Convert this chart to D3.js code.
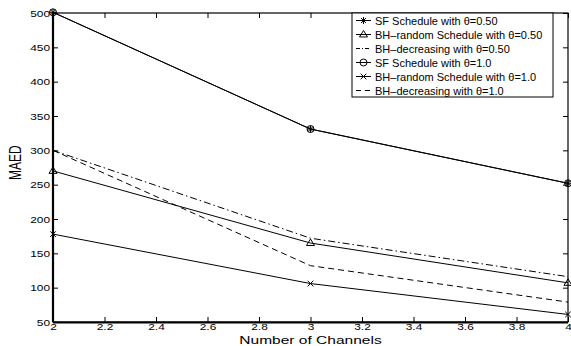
<!DOCTYPE html>
<html><head><meta charset="utf-8">
<script src="https://cdn.jsdelivr.net/npm/d3@7"></script>
<style>body{margin:0;background:#fff}svg{display:block}text{font-family:"Liberation Sans",Arial,Helvetica,sans-serif}</style>
</head><body>
<svg id="c" width="571" height="346"></svg>
<script>
const channels = [2, 3, 4];
const sf050 = [501, 331, 252];
const bhRandom050 = [270, 165, 107];
const bhDec050 = [300, 172, 116];
const sf10 = [501, 331, 252];
const bhRandom10 = [178, 106, 61];
const bhDec10 = [300, 132, 79];
const xTicks = [2, 2.2, 2.4, 2.6, 2.8, 3, 3.2, 3.4, 3.6, 3.8, 4];
const yTicks = [50, 100, 150, 200, 250, 300, 350, 400, 450, 500];
const seriesNames = ["SF Schedule with \u03b8=0.50", "BH\u2013random Schedule with \u03b8=0.50", "BH\u2013decreasing with \u03b8=0.50",
  "SF Schedule with \u03b8=1.0", "BH\u2013random Schedule with \u03b8=1.0", "BH\u2013decreasing with \u03b8=1.0"];
const seriesData = [sf050, bhRandom050, bhDec050, sf10, bhRandom10, bhDec10];
const seriesMarker = ["star", "triangle", null, "circle", "cross", null];
const seriesDash = [null, null, "7,3,1.5,3", null, null, "6,4"];

const W = 571, H = 346;
const m = {l: 53, r: 3, t: 13, b: 24};
const SX = 1.25;
const svg = d3.select("#c");
const x = d3.scaleLinear().domain([2, 4]).range([m.l, W - m.r]);
const y = d3.scaleLinear().domain([50, 500]).range([H - m.b, m.t]);
const pw = W - m.r - m.l, ph = H - m.b - m.t;

// axes
const fmt = d => String(+d.toFixed(1));
const gx = svg.append("g").attr("transform", `translate(0,${H - m.b})`)
  .call(d3.axisBottom(x).tickValues(xTicks).tickSize(-5).tickPadding(1.5).tickFormat(fmt));
const gxt = svg.append("g").attr("transform", `translate(0,${m.t})`)
  .call(d3.axisTop(x).tickValues(xTicks).tickSize(-5).tickFormat(""));
const gy = svg.append("g").attr("transform", `translate(${m.l},0)`)
  .call(d3.axisLeft(y).tickValues(yTicks).tickSize(-5).tickPadding(3));
const gyr = svg.append("g").attr("transform", `translate(${W - m.r},0)`)
  .call(d3.axisRight(y).tickValues(yTicks).tickSize(-5).tickFormat(""));
[gx, gxt, gy, gyr].forEach(g => {
  g.select(".domain").remove();
  g.selectAll("line").attr("stroke", "#000").attr("stroke-width", 1);
  g.selectAll("text").attr("font-size", 9.5).attr("fill", "#000");
});
gx.selectAll("text").attr("transform", `scale(${SX},1)`);
gy.selectAll("text").each(function () {
  const t = d3.select(this);
  const tx = +t.attr("x");
  t.attr("x", 0).attr("transform", `translate(${tx},0) scale(${SX},1)`);
});
svg.append("rect").attr("x", m.l).attr("y", m.t).attr("width", pw).attr("height", ph)
  .attr("fill", "none").attr("stroke", "#000").attr("stroke-width", 1.2);
svg.append("line").attr("x1", m.l).attr("x2", m.l).attr("y1", m.t).attr("y2", H - m.b)
  .attr("stroke", "#000").attr("stroke-width", 2.2);
svg.append("line").attr("x1", m.l).attr("x2", W - m.r).attr("y1", H - m.b + 0.5).attr("y2", H - m.b + 0.5)
  .attr("stroke", "#000").attr("stroke-width", 2);

// axis labels
svg.append("text").attr("transform", `translate(${x(3)},343.5) scale(1.35,1)`).attr("text-anchor", "middle")
  .attr("font-size", 11.5).text("Number of Channels");
svg.append("text").attr("transform", `translate(21,${y(282)}) rotate(-90) scale(1,1.3)`).attr("text-anchor", "middle")
  .attr("font-size", 12).text("MAED");

// markers
function drawMarker(g, type, cx, cy) {
  const s = 3.5;
  if (type === "star") {
    g.append("path").attr("d", `M${cx - s},${cy}H${cx + s}M${cx},${cy - s}V${cy + s}M${cx - s * .7},${cy - s * .7}L${cx + s * .7},${cy + s * .7}M${cx - s * .7},${cy + s * .7}L${cx + s * .7},${cy - s * .7}`)
      .attr("stroke", "#000").attr("fill", "none");
  } else if (type === "triangle") {
    g.append("path").attr("d", `M${cx},${cy - s - 0.5}L${cx + s + 0.5},${cy + s * 0.7}L${cx - s - 0.5},${cy + s * 0.7}Z`)
      .attr("stroke", "#000").attr("fill", "none");
  } else if (type === "circle") {
    g.append("circle").attr("cx", cx).attr("cy", cy).attr("r", s).attr("stroke", "#000").attr("fill", "none");
  } else if (type === "cross") {
    const c = s * 0.8;
    g.append("path").attr("d", `M${cx - c},${cy - c}L${cx + c},${cy + c}M${cx - c},${cy + c}L${cx + c},${cy - c}`)
      .attr("stroke", "#000").attr("fill", "none");
  }
}

const line = d3.line().x((d, i) => x(channels[i])).y(d => y(d));
const plot = svg.append("g");
seriesData.forEach((vals, k) => {
  plot.append("path").attr("d", line(vals)).attr("fill", "none").attr("stroke", "#000")
    .attr("stroke-width", 1).attr("stroke-dasharray", seriesDash[k]);
  if (seriesMarker[k]) vals.forEach((v, i) => drawMarker(plot, seriesMarker[k], x(channels[i]), y(v)));
});

// legend
const lg = svg.append("g");
const lx = 352, ly = 13, lw = 201, lh = 84;
lg.append("rect").attr("x", lx).attr("y", ly).attr("width", lw).attr("height", lh)
  .attr("fill", "#fff").attr("stroke", "#000").attr("stroke-width", 1);
seriesNames.forEach((name, k) => {
  const yy = ly + 7.5 + k * 14;
  lg.append("line").attr("x1", lx + 4).attr("x2", lx + 19).attr("y1", yy).attr("y2", yy)
    .attr("stroke", "#000").attr("stroke-dasharray", seriesDash[k] ? (k === 2 ? "4,2,1,2" : "5,4") : null);
  if (seriesMarker[k]) drawMarker(lg, seriesMarker[k], lx + 11.5, yy);
  lg.append("text").attr("transform", `translate(${lx + 23},${yy + 4})`)
    .attr("font-size", 11).text(name);
});
</script>
</body></html>
